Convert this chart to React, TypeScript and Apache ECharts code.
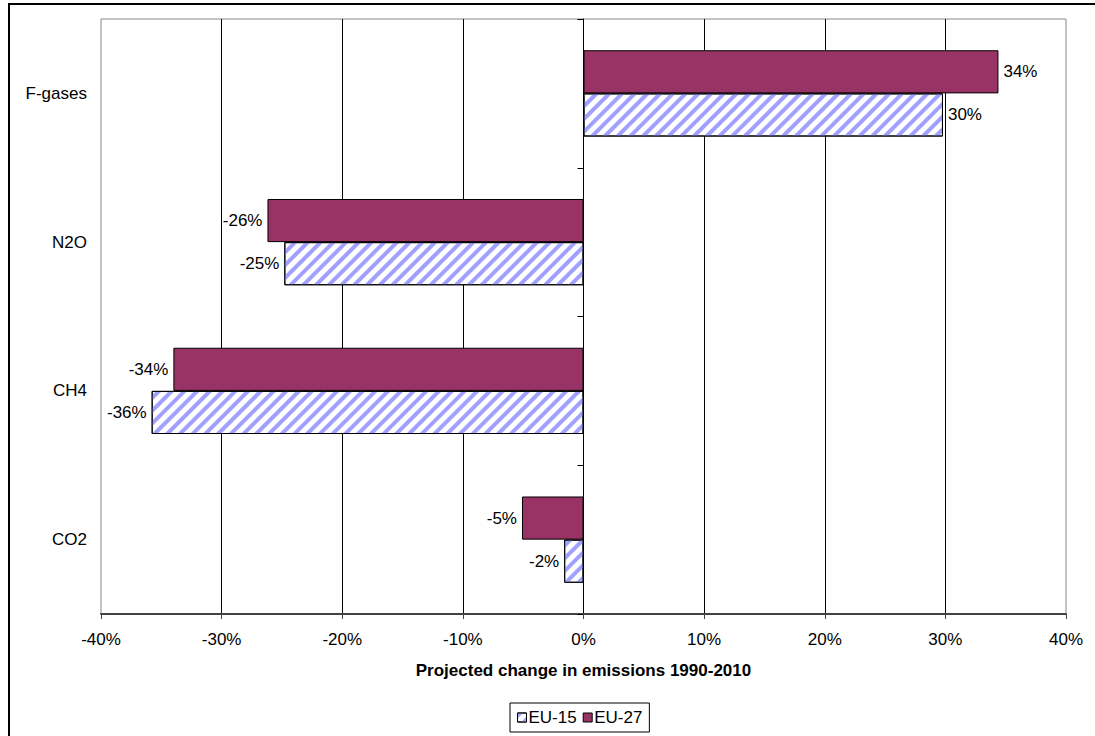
import React, { useEffect, useRef } from 'react';
import * as echarts from 'echarts';

const categories = ['CO2', 'CH4', 'N2O', 'F-gases'];
const seriesNames = ['EU-15', 'EU-27'];
const eu15Values = [-1.6, -35.8, -24.8, 29.8];
const eu27Values = [-5.1, -34.0, -26.2, 34.4];
const axisTitle = 'Projected change in emissions 1990-2010';

export default function App() {
  const ref = useRef<HTMLDivElement>(null);
  useEffect(() => {
    const chart = echarts.init(ref.current!, null, { renderer: 'svg' });
    const font = 'Arial, "Liberation Sans", sans-serif';
    const fs = 17;
    const mk = (vals: number[]) =>
      vals.map((v) => ({ value: v, label: { position: v < 0 ? 'left' : 'right' } }));
    const labelCfg = {
      show: true,
      distance: 5,
      fontSize: fs,
      color: '#000',
      fontFamily: font,
      formatter: (p: any) => Math.round(p.value) + '%',
    };
    chart.setOption({
      animation: false,
      backgroundColor: '#fff',
      textStyle: { fontFamily: font },
      graphic: [
        {
          type: 'rect',
          shape: { x: 9, y: 4, width: 1100, height: 740 },
          style: { fill: 'none', stroke: '#000', lineWidth: 2 },
          silent: true,
          z: 100,
        },
      ],
      grid: {
        left: 101,
        right: 29,
        top: 19,
        bottom: 122,
        show: true,
        borderColor: '#888',
        borderWidth: 1,
      },
      legend: {
        data: seriesNames,
        left: 510,
        top: 703,
        icon: 'rect',
        itemWidth: 9,
        itemHeight: 9,
        itemGap: 6,
        borderColor: '#000',
        borderWidth: 1,
        padding: [6, 7],
        textStyle: { fontSize: fs, color: '#000', fontFamily: font, padding: [0, 0, 0, -3] },
        itemStyle: { borderColor: '#000', borderWidth: 1 },
      },
      xAxis: {
        type: 'value',
        min: -40,
        max: 40,
        interval: 10,
        name: axisTitle,
        nameLocation: 'middle',
        nameGap: 48,
        nameTextStyle: { fontWeight: 'bold', fontSize: fs, color: '#000', fontFamily: font },
        axisLabel: { formatter: '{value}%', color: '#000', fontSize: fs, margin: 17, fontFamily: font },
        axisLine: { show: true, onZero: false, lineStyle: { color: '#444', width: 2 } },
        axisTick: { show: true, length: 5, lineStyle: { color: '#444' } },
        splitLine: {
          show: true,
          showMinLine: false,
          showMaxLine: false,
          lineStyle: { color: '#000', width: 1 },
        },
      },
      yAxis: [
        {
          type: 'category',
          data: categories,
          axisLine: { show: false, onZero: false },
          axisTick: { show: false },
          axisLabel: { color: '#000', fontSize: fs, margin: 14, fontFamily: font },
        },
        {
          type: 'category',
          data: categories,
          position: 'left',
          axisLine: { show: true, onZero: true, onZeroAxisIndex: 0, lineStyle: { color: '#000' } },
          axisTick: { show: true, length: 6, lineStyle: { color: '#000' } },
          axisLabel: { show: false },
        },
      ],
      series: [
        {
          name: 'EU-27',
          type: 'bar',
          yAxisIndex: 0,
          data: mk(eu27Values),
          barGap: '0%',
          barCategoryGap: '42%',
          itemStyle: { color: '#993366', borderColor: '#000', borderWidth: 1 },
          label: labelCfg,
        },
        {
          name: 'EU-15',
          type: 'bar',
          yAxisIndex: 0,
          data: mk(eu15Values),
          barGap: '0%',
          barCategoryGap: '42%',
          itemStyle: {
            color: '#fff',
            borderColor: '#000',
            borderWidth: 1,
            decal: {
              symbol: 'rect',
              symbolSize: 1,
              dashArrayX: [1, 0],
              dashArrayY: [4, 4.5],
              rotation: -Math.PI / 4,
              color: '#a0a0ff',
            },
          },
          label: labelCfg,
        },
      ],
    });
    return () => chart.dispose();
  }, []);
  return (
    <div
      ref={ref}
      style={{ position: 'absolute', left: 0, top: 0, width: 1095, height: 736 }}
    />
  );
}
